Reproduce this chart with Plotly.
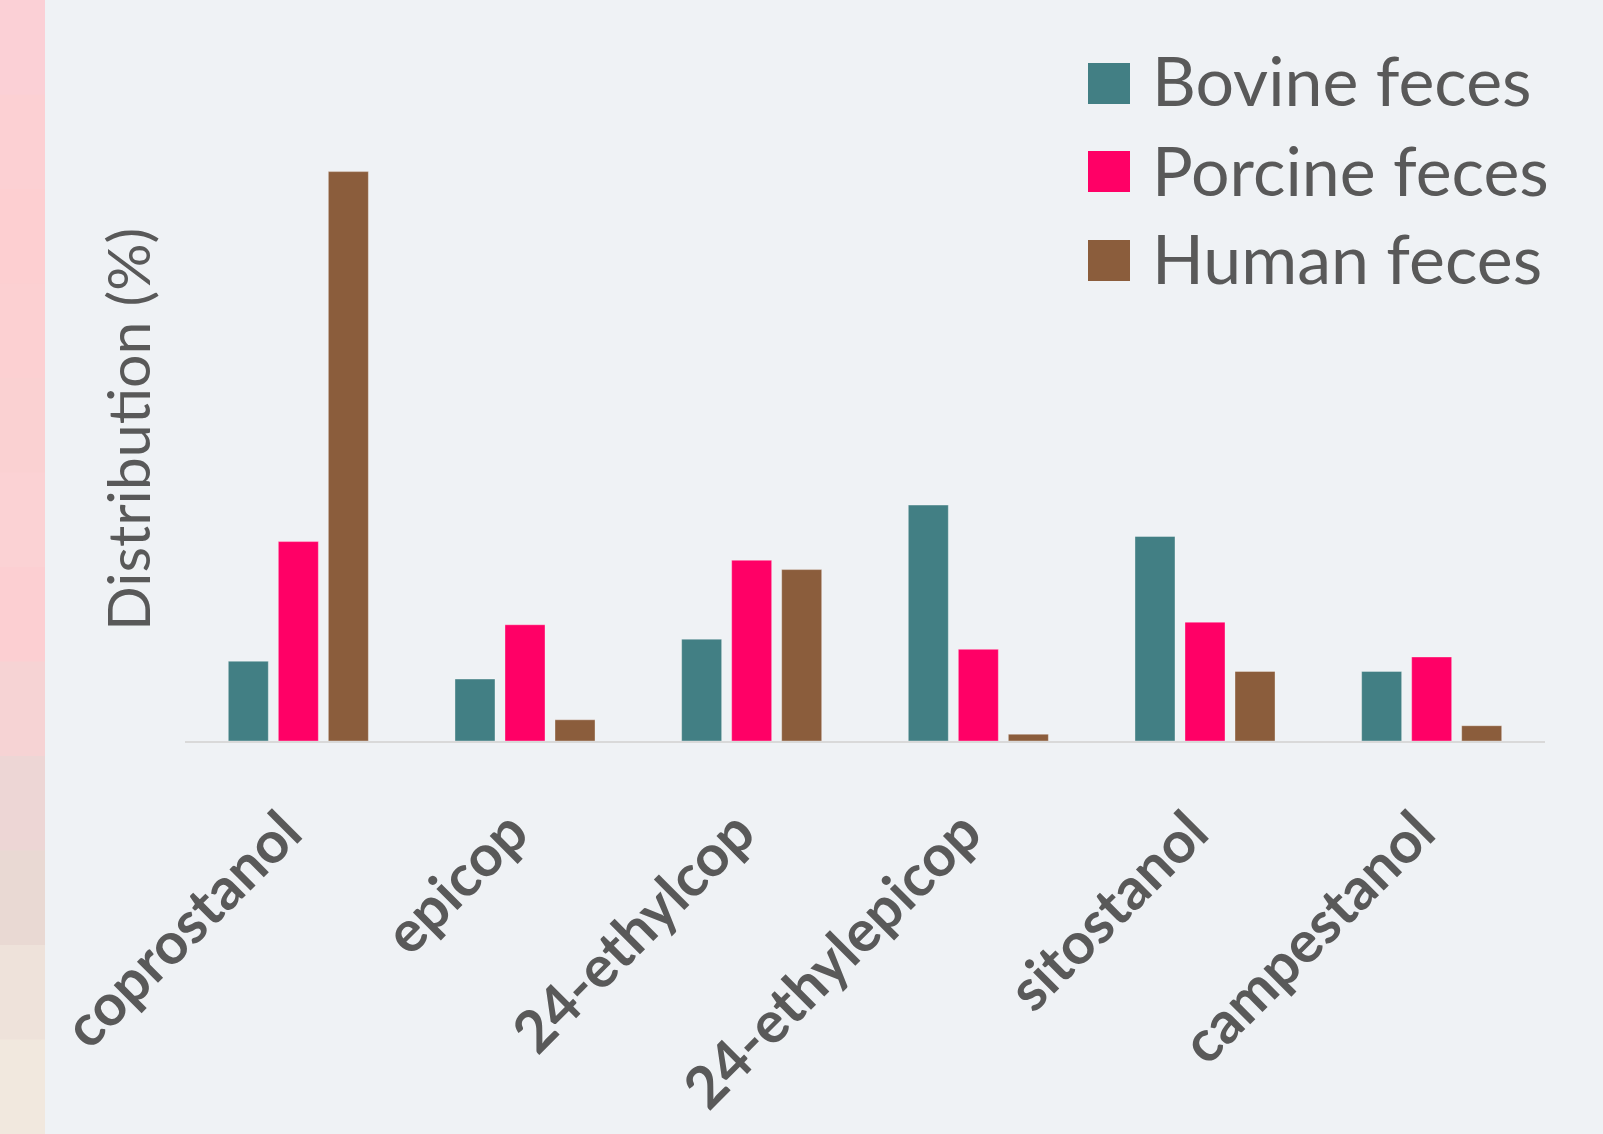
import plotly.graph_objects as go

# page geometry (px) used only to place decorations
W, H = 1603, 1134
L, R, T, B = 185, 58, 147, 393
PW, PH = W - L - R, H - T - B

compounds = ["coprostanol", "epicop", "24-ethylcop", "24-ethylepicop", "sitostanol", "campestanol"]
bovine = [9.4, 7.3, 12.0, 27.8, 24.1, 8.2]
porcine = [23.5, 13.7, 21.3, 10.8, 14.0, 9.9]
human = [67.1, 2.5, 20.2, 0.8, 8.2, 1.8]

series = [
    ("Bovine feces", bovine, "#427F84"),
    ("Porcine feces", porcine, "#FF0066"),
    ("Human feces", human, "#8B5D3C"),
]

BG = "#EFF2F5"
TXT = "#595959"
FONT = "Lato, 'Open Sans', sans-serif"


def px_x(px):
    return (px - L) / PW


def px_y(py):
    return (H - B - py) / PH


fig = go.Figure()
for name, vals, color in series:
    fig.add_trace(
        go.Bar(
            name=name,
            x=compounds,
            y=vals,
            marker=dict(color=color, line=dict(color="rgba(255,255,255,0.35)", width=1)),
            showlegend=False,
        )
    )

shapes = []
# pinkish strip at the left edge of the slide
strip = ["#FBD0D6", "#FCD0D3", "#FDCFD1", "#FCD0D2", "#FAD1D2", "#FBD2D4",
         "#FCCFD2", "#F6D3D4", "#EDD6D5", "#E9D9D3", "#EEE2DA", "#F1E8DE"]
n = len(strip)
for i, c in enumerate(strip):
    shapes.append(dict(
        type="rect", xref="paper", yref="paper", layer="below",
        x0=px_x(0), x1=px_x(45),
        y0=px_y(H * (i + 1) / n + 1), y1=px_y(H * i / n),
        fillcolor=c, line=dict(width=0),
    ))

# legend drawn by hand so the swatches can be as large as in the slide
legend_rows = [(63, 104, 80), (151, 192, 169), (240, 281, 257)]
annotations = []
for (name, _, color), (top, bot, mid) in zip(series, legend_rows):
    shapes.append(dict(
        type="rect", xref="paper", yref="paper",
        x0=px_x(1088), x1=px_x(1130), y0=px_y(bot), y1=px_y(top),
        fillcolor=color, line=dict(width=0),
    ))
    annotations.append(dict(
        text=name, xref="paper", yref="paper", x=px_x(1150), y=px_y(mid),
        xanchor="left", yanchor="middle", showarrow=False,
        font=dict(family=FONT, size=68, color=TXT),
    ))

annotations.append(dict(
    text="Distribution (%)", xref="paper", yref="paper", x=px_x(127), y=px_y(430),
    xanchor="center", yanchor="middle", textangle=-90, showarrow=False,
    font=dict(family=FONT, size=59, color=TXT),
))

fig.update_layout(
    width=W, height=H,
    margin=dict(l=L, r=R, t=T, b=B, autoexpand=False),
    paper_bgcolor=BG, plot_bgcolor=BG,
    barmode="group", bargap=0.338, bargroupgap=0.2,
    shapes=shapes, annotations=annotations,
    xaxis=dict(
        showline=True, linecolor="#D9D9D9", linewidth=2, showgrid=False,
        ticks="", tickangle=-45, ticklabelstandoff=32, ticklabelshift=-14,
        tickfont=dict(family=FONT, size=58, color=TXT, weight="bold"),
    ),
    yaxis=dict(range=[0, 70], showgrid=False, zeroline=False,
               showticklabels=False, showline=False),
)

fig.write_html(
    "out.html",
    config={"displayModeBar": False},
    post_script="document.body.style.margin='0px';",
)
